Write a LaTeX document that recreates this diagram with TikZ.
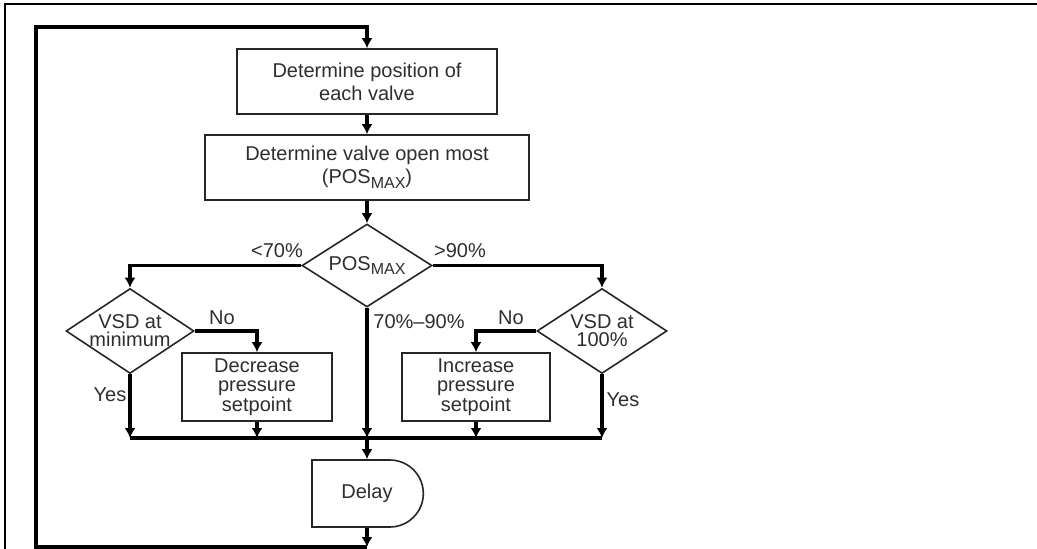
\documentclass[tikz,border=0pt]{standalone}
\usepackage{fontspec}
\setmainfont{Liberation Sans}
\usetikzlibrary{arrows.meta}
\usetikzlibrary{shapes.geometric,shapes.misc}

\newcommand{\posmax}{POS\raisebox{-0.45ex}{\fontsize{16}{16}\selectfont MAX}}

\begin{document}
\begin{tikzpicture}[x=1pt,y=-1pt,>={Latex[length=10pt,width=11pt]},line width=3.2pt,
  every node/.style={text=black!82},
  proc node/.style={rectangle,draw=black!85,line width=1.6pt,align=center,inner sep=0pt,font=\fontsize{20}{23}\selectfont},
  small node/.style={proc node,font=\fontsize{20}{19.5}\selectfont},
  dec node/.style={diamond,draw=black!85,line width=1.6pt,align=center,inner sep=-15pt,minimum width=128pt,minimum height=85pt,font=\fontsize{20}{18}\selectfont},
  delay node/.style={rounded rectangle,rounded rectangle west arc=none,draw=black!85,line width=1.6pt,minimum width=118pt,minimum height=67pt,font=\fontsize{20}{23}\selectfont},
  lbl/.style={font=\fontsize{20}{23}\selectfont,inner sep=0pt}]

  \useasboundingbox (0,0) rectangle (1037,549);
  \draw[line width=1.3pt] (5,549) -- (5,4) -- (1037,4);

  \node[proc node,minimum width=260pt,minimum height=65pt] (pos) at (367,81.5) {Determine position of\\each valve};
  \node[proc node,minimum width=324pt,minimum height=65pt] (open) at (367,167.5) {Determine valve open most\\(\posmax)};
  \node[dec node,minimum width=130pt,minimum height=83pt] (max) at (367,265.5) {\posmax};
  \node[dec node] (vsdmin) at (130,331) {VSD at\\minimum};
  \node[dec node,minimum width=130pt] (vsdfull) at (602,331) {VSD at\\100\%};
  \node[small node,minimum width=150pt,minimum height=68pt] (decr) at (257,387) {Decrease\\pressure\\setpoint};
  \node[small node,minimum width=148pt,minimum height=68pt] (incr) at (476,387) {Increase\\pressure\\setpoint};
  \node[delay node] (delay) at (367,493.5) {Delay};

  \node[lbl] (lt) at (277,251) {<70\%};
  \node[lbl] (gt) at (460,251) {>90\%};
  \node[lbl] (mid) at (419,322) {70\%--90\%};
  \node[lbl] (nol) at (222,318) {No};
  \node[lbl] (nor) at (511,318) {No};
  \node[lbl] (yesl) at (110,395) {Yes};
  \node[lbl] (yesr) at (623,400) {Yes};

  \coordinate (mergeL) at (130,438);
  \coordinate (mergeR) at (602,438);
  \coordinate (loopB) at (367,547);
  \coordinate (loopBL) at (36,547);
  \coordinate (loopTL) at (36,27);

  \draw[->] (pos) -- (open);
  \draw[->] (open) -- (max);
  \draw[->] (max.west) -| (vsdmin.north);
  \draw[->] (max.east) -| (vsdfull.north);
  \draw[->] (vsdmin.east) -| (decr.north);
  \draw[->] (vsdfull.west) -| (incr.north);
  \draw[->] (vsdmin.south) -- (vsdmin.south |- mergeL);
  \draw[->] (decr.south) -- (decr.south |- mergeL);
  \draw[->] (max.south) -- (max.south |- mergeL);
  \draw[->] (incr.south) -- (incr.south |- mergeL);
  \draw[->] (vsdfull.south) -- (vsdfull.south |- mergeL);
  \draw (mergeL) -- (mergeR);
  \draw[->] (max.south |- mergeL) -- (delay.north);
  \draw[->] (delay.south) -- (loopB);
  \draw[->] (loopB) -- (loopBL) -- (loopTL) -| (pos.north);

\end{tikzpicture}
\end{document}
